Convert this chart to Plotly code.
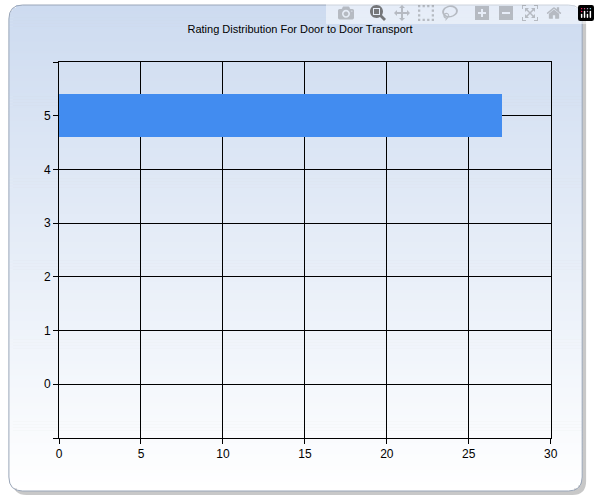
import plotly.graph_objects as go
import math

categories = [5]
values = [27]
title = "Rating Distribution For Door to Door Transport"

W, H = 600, 500
fig = go.Figure(go.Bar(x=values, y=categories, orientation="h", width=0.8,
                       marker=dict(color="#428cf0", line=dict(width=0))))

shapes = []
L, R, T, B, r = 6, 589, 5, 491, 14
n = 160
top = (205, 219, 240)
for i in range(n):
    y0 = T + (B - T) * i / n
    y1 = T + (B - T) * (i + 1) / n + 0.6
    ym = (y0 + y1) / 2
    inset = 0
    if ym < T + r:
        d = T + r - ym
        inset = r - math.sqrt(max(r * r - d * d, 0))
    elif ym > B - r:
        d = ym - (B - r)
        inset = r - math.sqrt(max(r * r - d * d, 0))
    t = i / (n - 1)
    c = tuple(int(round(top[k] + (255 - top[k]) * t)) for k in range(3))
    shapes.append(dict(type="rect", xref="paper", yref="paper", layer="below",
                       x0=(L + inset) / W, x1=(R - inset) / W,
                       y0=1 - min(y1, B) / H, y1=1 - y0 / H,
                       fillcolor="rgb(%d,%d,%d)" % c, line=dict(width=0)))
def rr(L, R, T, B, r):
    return (f"M {L+r} {T} L {R-r} {T} Q {R} {T} {R} {T+r} L {R} {B-r} Q {R} {B} {R-r} {B} "
            f"L {L+r} {B} Q {L} {B} {L} {B-r} L {L} {T+r} Q {L} {T} {L+r} {T} Z")
def conv(p):
    toks = p.split()
    i = 0
    res = []
    while i < len(toks):
        if toks[i] in "MLQZ":
            res.append(toks[i]); i += 1
        else:
            x = float(toks[i]) / W; y = 1 - float(toks[i+1]) / H
            res.append(f"{x:.5f},{y:.5f}"); i += 2
    return " ".join(res)
shapes.insert(0, dict(type="path", xref="paper", yref="paper", layer="below",
                      path=conv(rr(L+4, R+4, T+4, B+4, r)), fillcolor="#c8c8c8",
                      line=dict(width=0)))
shapes.append(dict(type="path", xref="paper", yref="paper", layer="below",
                   path=conv(rr(L, R, T, B, r)), fillcolor="rgba(0,0,0,0)",
                   line=dict(color="#9aa6b8", width=1)))

fig.update_layout(
    width=W, height=H, margin=dict(l=0, r=0, t=0, b=0),
    paper_bgcolor="white", plot_bgcolor="rgba(0,0,0,0)",
    shapes=shapes, showlegend=False, bargap=0,
    font=dict(family="Liberation Sans, Arial", color="black", size=12),
    title=dict(text=title, x=0.5, xanchor="center", y=1 - 29 / H, yanchor="middle",
               font=dict(size=11, color="black")),
    xaxis=dict(domain=[57 / W, 557 / W], range=[0, 30], dtick=5,
               showgrid=True, gridcolor="black", gridwidth=1, zeroline=False,
               showline=True, linecolor="black", mirror=True,
               ticks="outside", ticklen=5, tickcolor="black"),
    yaxis=dict(domain=[1 - 438 / H, 1 - 62 / H], range=[-1, 6],
               tickvals=[-1, 0, 1, 2, 3, 4, 5, 6], ticktext=["", "0", "1", "2", "3", "4", "5", ""],
               showgrid=True, gridcolor="black", gridwidth=1, zeroline=False,
               showline=True, linecolor="black", mirror=True,
               ticks="outside", ticklen=5, tickcolor="black"),
)
fig.write_html("out.html",
               post_script="document.body.style.margin='0';document.body.style.overflow='hidden';")
